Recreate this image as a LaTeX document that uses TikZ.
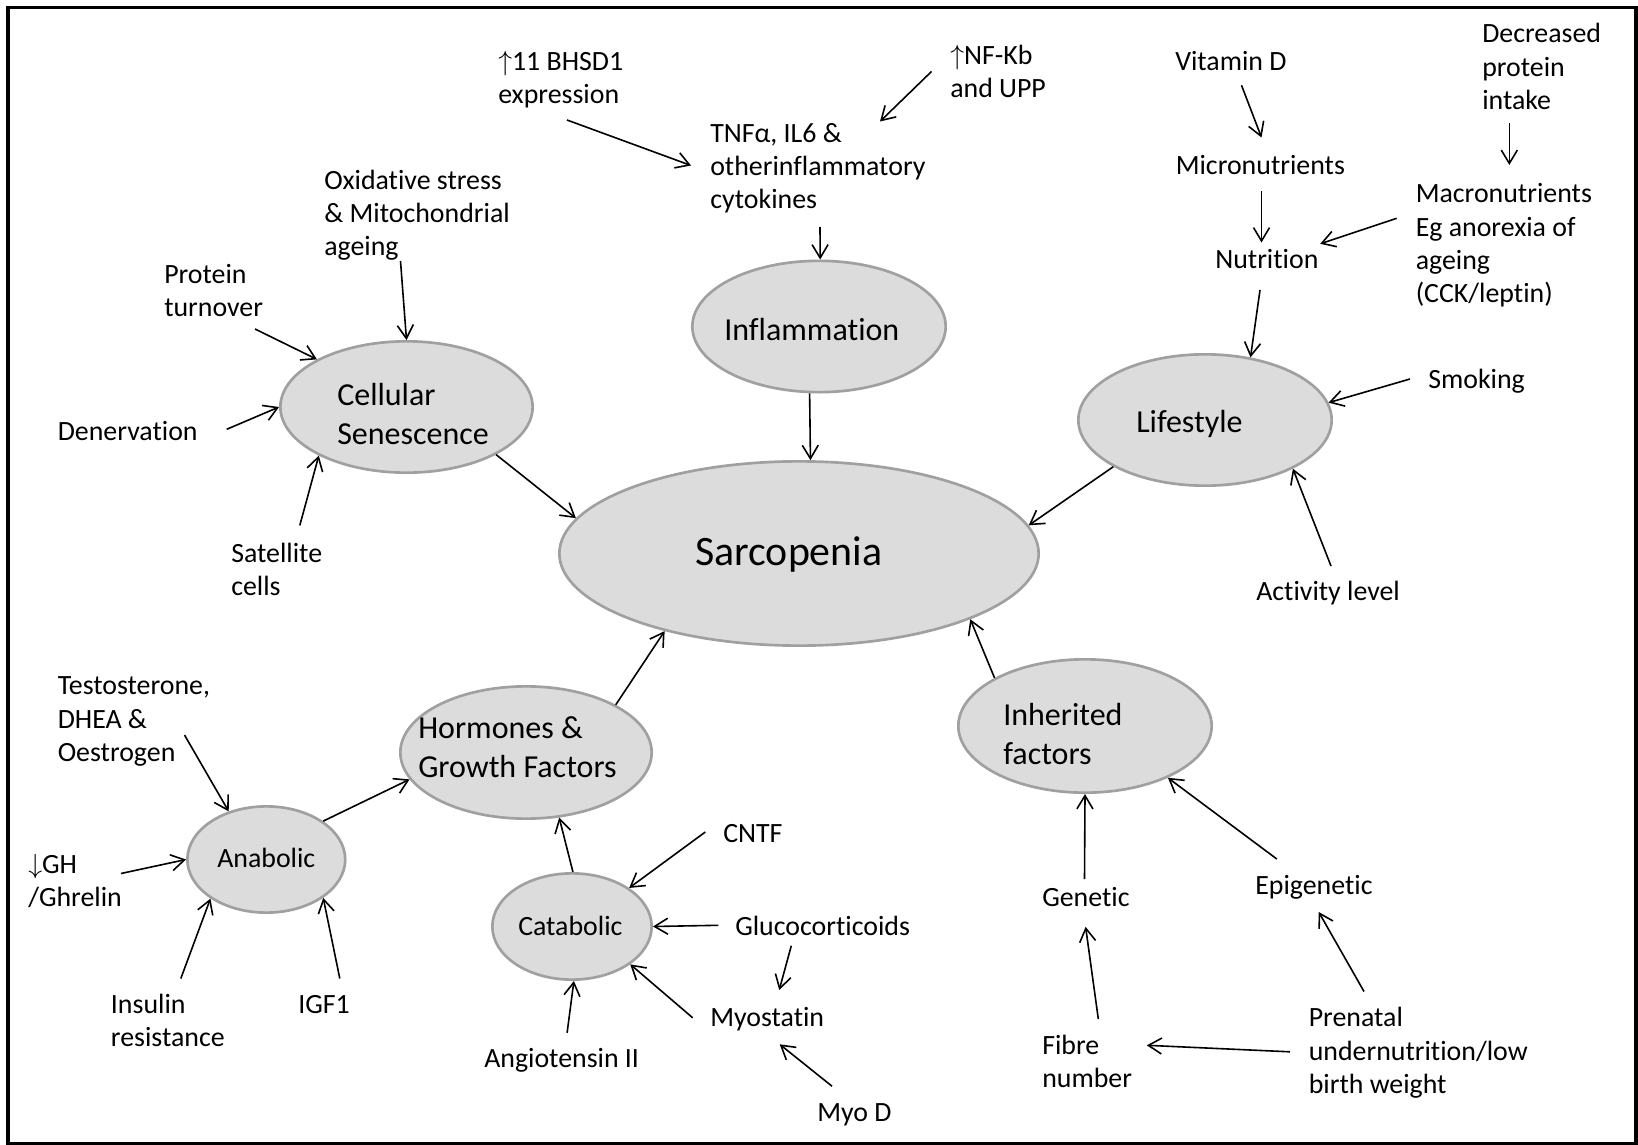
\documentclass[tikz,border=0pt]{standalone}
\usepackage{fontspec}
\setmainfont{Carlito}[Ligatures=NoCommon]
\usetikzlibrary{shapes.geometric,arrows.meta}
\definecolor{ellfill}{RGB}{220,220,220}
\definecolor{elldraw}{RGB}{160,160,160}
\newcommand\fRg{\fontsize{20.9}{25}\selectfont}
\newcommand\fLb{\fontsize{24}{29.25}\selectfont}
\newcommand\fSarc{\fontsize{31.4}{37.7}\selectfont}
\begin{document}
\begin{tikzpicture}[x=0.75pt,y=-0.75pt,
  ell/.style={ellipse, draw=elldraw, fill=ellfill, line width=2pt, inner sep=0pt},
  txt/.style={font=\fRg, anchor=north west, inner sep=0pt, align=left, yshift=17.5pt},
  lbl/.style={font=\fLb, anchor=north west, inner sep=0pt, align=left, yshift=20.475pt},
  sarclbl/.style={font=\fSarc, anchor=north west, inner sep=0pt, align=left, yshift=26.39pt},
  arr/.style={draw, line width=1.2pt, -{Straight Barb[length=10pt,width=12pt]}}]
\useasboundingbox (0,0) rectangle (1638,1145);
\draw[line width=2.4pt] (8,7.5) rectangle (1636,1144);

% ellipses
\node[ell, minimum width=189.2pt, minimum height=98.5pt] (cell) at (406.5,407) {};
\node[ell, minimum width=190pt, minimum height=98.5pt] (infl) at (819,326.5) {};
\node[ell, minimum width=190pt, minimum height=98.5pt] (life) at (1205,420) {};
\node[ell, minimum width=359.5pt, minimum height=138.2pt] (sarc) at (799,553.5) {};
\node[ell, minimum width=188.5pt, minimum height=99.2pt] (horm) at (526,752.5) {};
\node[ell, minimum width=118.4pt, minimum height=79.7pt] (anab) at (266.3,859.5) {};
\node[ell, minimum width=119.5pt, minimum height=79.7pt] (catab) at (572,926.5) {};
\node[ell, minimum width=190pt, minimum height=100pt] (inh) at (1085,726) {};

% ellipse labels
\node[sarclbl] (sarcT) at (695,565) {\strut Sarcopenia};
\node[lbl] (cellT) at (337,405) {\strut Cellular\\Senescence};
\node[lbl] (inflT) at (724,340) {\strut Inflammation};
\node[lbl] (lifeT) at (1136,432) {\strut Lifestyle};
\node[lbl] (hormT) at (418,738) {\strut Hormones \&\\Growth Factors};
\node[lbl] (inhT) at (1003,725) {\strut Inherited\\factors};
\node[txt] (anabT) at (217,867) {\strut Anabolic};
\node[txt] (catabT) at (518,935) {\strut Catabolic};

% texts
\node[txt] (bhsd) at (498,70) {\strut$\uparrow$11 BHSD1\\expression};
\node[txt] (nfkb) at (950,64) {\strut$\uparrow$NF-Kb\\and UPP};
\node[txt] (tnf) at (710,142) {\strut TNFα, IL6 \&\\otherinflammatory\\cytokines};
\node[txt] (oxid) at (324,189) {\strut Oxidative stress\\\& Mitochondrial\\ageing};
\node[txt] (prot) at (164,283) {\strut Protein\\turnover};
\node[txt] (dener) at (57.5,440.7) {\strut Denervation};
\node[txt] (satel) at (231,562) {\strut Satellite\\cells};
\node[txt] (vitd) at (1175,70) {\strut Vitamin D};
\node[txt] (micro) at (1175.5,174.3) {\strut Micronutrients};
\node[txt] (nutr) at (1215,268.4) {\strut Nutrition};
\node[txt] (decr) at (1482,42.7) {\strut Decreased\\protein\\intake};
\node[txt] (macro) at (1415.5,202.6) {\strut Macronutrients\\Eg anorexia of\\ageing\\(CCK/leptin)};
\node[txt] (smok) at (1428,388.5) {\strut Smoking};
\node[txt] (activ) at (1256,600.3) {\strut Activity level};
\node[txt] (testo) at (57.5,694.6) {\strut Testosterone,\\DHEA \&\\Oestrogen};
\node[txt] (gh) at (28,873.2) {\strut$\downarrow$GH\\/Ghrelin};
\node[txt] (insul) at (110.7,1013) {\strut Insulin\\resistance};
\node[txt] (igf) at (298,1013) {\strut IGF1};
\node[txt] (angio) at (484,1067.5) {\strut Angiotensin II};
\node[txt] (cntf) at (723,841.8) {\strut CNTF};
\node[txt] (gluco) at (735,934.8) {\strut Glucocorticoids};
\node[txt] (myost) at (710,1026.7) {\strut Myostatin};
\node[txt] (myod) at (817,1120.8) {\strut Myo D};
\node[txt] (genet) at (1042,906.6) {\strut Genetic};
\node[txt] (epig) at (1255,894) {\strut Epigenetic};
\node[txt] (fibre) at (1042,1054) {\strut Fibre\\number};
\node[txt] (prenat) at (1308.5,1026.7) {\strut Prenatal\\undernutrition/low\\birth weight};

% free arrow ends
\coordinate (p1s) at (567,120); \coordinate (p1e) at (691,165.5);
\coordinate (p2s) at (931.5,71.5); \coordinate (p2e) at (880,121.5);
\coordinate (p3s) at (820,227);
\coordinate (p5s) at (400.5,261);
\coordinate (p6s) at (255,329);
\coordinate (p7s) at (226.7,429.3);
\coordinate (p8s) at (299.8,525.4);
\coordinate (p10s) at (1241.5,85.3); \coordinate (p10e) at (1261.5,137.5);
\coordinate (p11s) at (1261.5,191.5); \coordinate (p11e) at (1261.5,242.5);
\coordinate (p12s) at (1509.3,123.3); \coordinate (p12e) at (1509.3,165);
\coordinate (p13s) at (1396.7,218.3); \coordinate (p13e) at (1320.2,243.8);
\coordinate (p14s) at (1260,290);
\coordinate (p15s) at (1410,379);
\coordinate (p16s) at (1331,566);
\coordinate (p20s) at (184.5,735);
\coordinate (p21s) at (121,873.5);
\coordinate (p22s) at (180.8,978.5);
\coordinate (p23s) at (339.8,978.5);
\coordinate (p26s) at (705.3,832);
\coordinate (p27s) at (718.3,925.3);
\coordinate (p28s) at (692.7,1017.8);
\coordinate (p29s) at (791.3,945.7); \coordinate (p29e) at (779.2,990);
\coordinate (p30s) at (567.1,1032.8);
\coordinate (p31s) at (832,1086.2); \coordinate (p31e) at (779.7,1044.3);
\coordinate (p32s) at (1084.5,879);
\coordinate (p33s) at (1276.8,859);
\coordinate (p34s) at (1098.3,1019); \coordinate (p34e) at (1085.6,926.8);
\coordinate (p35s) at (1364,991.5); \coordinate (p35e) at (1318.7,912);
\coordinate (p36s) at (1289.8,1051.8); \coordinate (p36e) at (1146.8,1045.3);

% connectors
\draw[arr] (p1s) -- (p1e);
\draw[arr] (p2s) -- (p2e);
\draw[arr] (p3s) -- (infl.89);
\draw[arr] (infl.262) -- (sarc.83);
\draw[arr] (p5s) -- (cell.90);
\draw[arr] (p6s) -- (cell.152);
\draw[arr] (p7s) -- (cell.180);
\draw[arr] (p8s) -- (cell.209);
\draw[arr] (cell.332) -- (sarc.171);
\draw[arr] (p10s) -- (p10e);
\draw[arr] (p11s) -- (p11e);
\draw[arr] (p12s) -- (p12e);
\draw[arr] (p13s) -- (p13e);
\draw[arr] (p14s) -- (life.54);
\draw[arr] (p15s) -- (life.8);
\draw[arr] (p16s) -- (life.331);
\draw[arr] (life.207) -- (sarc.7);
\draw[arr] (horm.28) -- (sarc.210);
\draw[arr] (inh.152) -- (sarc.339);
\draw[arr] (p20s) -- (anab.128);
\draw[arr] (p21s) -- (anab.180);
\draw[arr] (p22s) -- (anab.215);
\draw[arr] (p23s) -- (anab.326);
\draw[arr] (anab.34) -- (horm.193);
\draw[arr] (catab.89) -- (horm.297);
\draw[arr] (p26s) -- (catab.34);
\draw[arr] (p27s) -- (catab.0);
\draw[arr] (p28s) -- (catab.327);
\draw[arr] (p29s) -- (p29e);
\draw[arr] (p30s) -- (catab.272);
\draw[arr] (p31s) -- (p31e);
\draw[arr] (p32s) -- (inh.270);
\draw[arr] (p33s) -- (inh.328);
\draw[arr] (p34s) -- (p34e);
\draw[arr] (p35s) -- (p35e);
\draw[arr] (p36s) -- (p36e);
\end{tikzpicture}
\end{document}
